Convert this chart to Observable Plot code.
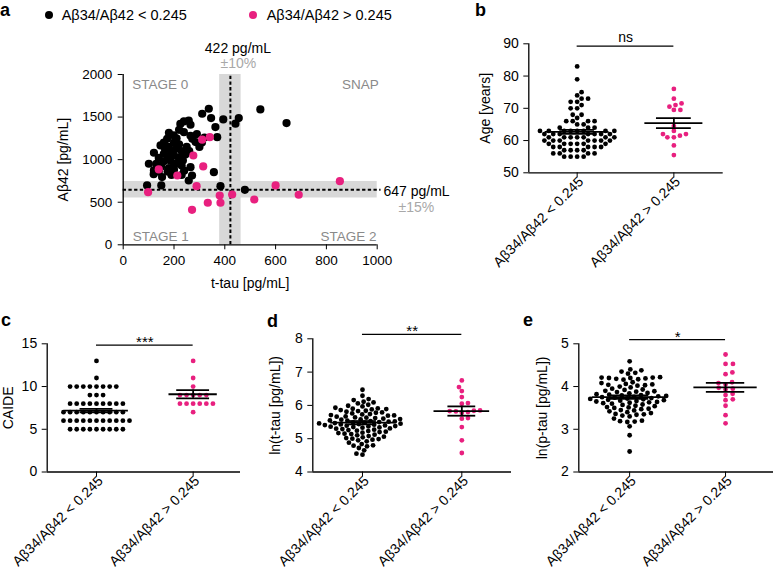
<!DOCTYPE html>
<html><head><meta charset="utf-8">
<script src="https://cdn.jsdelivr.net/npm/d3@7"></script>
<script src="https://cdn.jsdelivr.net/npm/@observablehq/plot@0.6"></script>
<style>
body{margin:0;background:#fff;}
#root{position:relative;width:773px;height:576px;overflow:hidden;font-family:"Liberation Sans",Arial,Helvetica,sans-serif;color:#000;}
.abs{position:absolute;}
.letter{position:absolute;font-weight:bold;font-size:18px;line-height:13px;}
.leg{position:absolute;font-size:14.5px;line-height:14.5px;white-space:nowrap;}
.legdot{position:absolute;width:8.4px;height:8.4px;border-radius:50%;}
</style></head>
<body><div id="root"></div>
<script>
// ---------------- data ----------------
const groups = ["Aβ34/Aβ42 < 0.245", "Aβ34/Aβ42 > 0.245"];

// panel a
const aXTicks = [0, 200, 400, 600, 800, 1000];
const aYTicks = [0, 500, 1000, 1500, 2000];
const tauCut = 422, tauTol = 0.10, abCut = 647, abTol = 0.15;
const aBlackTau = [337,311,346,394,455,442,540,643,239,258,265,363,225,180,199,239,173,370,272,285,147,121,160,101,121,153,265,271,258,357,94,150,383,479,200,220,180,165,190,210,230,250,140,175,200,220,245,260,130,160,185,210,235,150,180,200,230,140,175,200,240,120,190,230,300,320,290,210,160,220,265,310];
const aBlackAb42 = [1598,1539,1488,1472,1488,1422,1590,1429,1449,1460,1410,1382,1420,1316,1284,1323,1245,1264,1245,1206,1167,1081,1069,952,873,795,912,814,755,853,697,697,689,646,1200,1180,1150,1120,1100,1130,1100,1150,1020,1040,1050,1020,1060,1100,950,980,990,960,990,920,900,930,930,860,860,880,870,830,820,820,1150,1260,1300,1250,1200,1350,1280,1200];
const aPinkTau = [140,213,276,315,289,98,380,429,516,333,383,271,600,691,853,311,341];
const aPinkAb42 = [885,814,1049,920,689,618,579,591,532,494,494,411,697,588,747,1234,1264];
const stageNames = ["STAGE 0", "SNAP", "STAGE 1", "STAGE 2"];
const cutLabels = ["422 pg/mL", "±10%", "647 pg/mL", "±15%"];

// panel b
const bTicks = [50, 60, 70, 80, 90];
const ageBlack = [83,79,75,74,73,73,72,72,71,70,70,68,68,67,66,66,66,66,65,65,64,64,64,63,63,63,63,63,63,63,63,62,62,62,62,62,62,62,61,61,61,61,61,61,61,60,60,60,60,60,60,60,59,59,59,59,59,59,58,58,58,58,58,57,57,57,57,56,56,56,56,55,55,55,55];
const agePink = [76,73,71.5,71,70.5,69.5,69.5,64.5,63,62,62,61.5,61,61,58.5,55.5];
const ageMean = [62.7, 65.4], ageSem = [0.6, 1.55];

// panel c
const cTicks = [0, 5, 10, 15];
const caideBlack = [13,11,10,10,10,10,10,10,10,10,9,9,9,8,8,8,8,8,8,8,8,8,7,7,7,7,7,7,7,7,7,7,6,6,6,6,6,6,6,6,6,6,6,5,5,5,5,5,5,5,5,5];
const caidePink = [13,11,10,9,9,9,9,9,8,8,8,8,8,8,7];
const caideMean = [7.19, 9.1], caideSem = [0.2, 0.48];

// panel d
const dTicks = [4, 5, 6, 7, 8];
const tTauBlack = [6.47,6.29,6.19,6.16,6.11,6.09,6.06,6.02,5.99,5.97,5.93,5.91,5.9,5.89,5.88,5.86,5.84,5.83,5.81,5.79,5.78,5.76,5.74,5.73,5.71,5.7,5.69,5.67,5.66,5.64,5.63,5.62,5.6,5.59,5.58,5.57,5.55,5.54,5.53,5.52,5.51,5.5,5.49,5.48,5.47,5.46,5.45,5.44,5.43,5.42,5.41,5.4,5.39,5.38,5.37,5.36,5.35,5.34,5.33,5.31,5.3,5.29,5.27,5.26,5.24,5.23,5.21,5.2,5.18,5.17,5.15,5.14,5.12,5.1,5.08,5.06,5.04,5.02,5.0,4.99,4.97,4.95,4.92,4.88,4.84,4.8,4.79,4.77,4.72,4.65,4.55,4.52];
const tTauPink = [6.75,6.55,6.43,6.25,6.07,6.05,5.85,5.83,5.8,5.82,5.84,5.78,5.62,5.6,5.35,4.95,4.57];
const tTauMean = [5.48, 5.83], tTauSem = [0.05, 0.14];

// panel e
const eTicks = [2, 3, 4, 5];
const pTauBlack = [4.59,4.4,4.38,4.35,4.32,4.3,4.22,4.21,4.21,4.2,4.2,4.19,4.18,4.17,4.16,4.1,4.08,4.06,4.05,4.04,4.03,4.02,4.0,3.98,3.95,3.93,3.92,3.9,3.89,3.88,3.87,3.85,3.84,3.82,3.81,3.8,3.79,3.78,3.77,3.76,3.75,3.74,3.73,3.72,3.71,3.7,3.69,3.68,3.67,3.66,3.65,3.64,3.63,3.62,3.61,3.6,3.58,3.57,3.55,3.54,3.52,3.51,3.5,3.48,3.47,3.45,3.44,3.42,3.4,3.38,3.36,3.35,3.34,3.32,3.3,3.25,3.2,3.19,3.18,3.17,3.07,2.86,2.48];
const pTauPink = [4.75,4.53,4.53,4.33,4.29,4.1,4.08,4.05,3.95,3.93,3.97,3.83,3.8,3.7,3.68,3.55,3.33,3.14];
const pTauMean = [3.75, 3.98], pTauSem = [0.04, 0.105];

// ---------------- style ----------------
const PINK = "#e8207f";
const BAND = "#d8d8d8";
const FONT = '"Liberation Sans", Arial, Helvetica, sans-serif';
const plain = d => String(d);
const root = document.getElementById("root");

function mount(node, left, top) {
  const d = document.createElement("div");
  d.className = "abs";
  d.style.left = left + "px"; d.style.top = top + "px";
  d.appendChild(node); root.appendChild(d);
}
function margins(c) {
  return {width: c.width, height: c.height,
    marginLeft: c.fx0 - c.left, marginRight: c.left + c.width - c.fx1,
    marginTop: c.fy0 - c.top, marginBottom: c.top + c.height - c.fy1};
}
function swarm(values, g, pxY, pxX, Dx, Dy) {
  const idx = values.map((v, i) => i).sort((i, j) => values[i] - values[j]);
  const placed = [], out = [];
  idx.forEach((i, k) => {
    const y = values[i] * pxY;
    const near = placed.filter(p => Math.abs(p.y - y) < Dy);
    const cands = [0];
    for (const p of near) {
      const w = Dx * Math.sqrt(1 - ((p.y - y) / Dy) ** 2);
      cands.push(p.x + w, p.x - w);
    }
    const r3 = v => Math.round(Math.abs(v) * 100);
    cands.sort((a, b) => (r3(a) - r3(b)) || (k % 2 ? a - b : b - a));
    let xs = 0;
    for (const c of cands) {
      if (near.every(p => ((p.x - c) / Dx) ** 2 + ((p.y - y) / Dy) ** 2 >= 1 - 1e-6)) { xs = c; break; }
    }
    placed.push({x: xs, y});
    out.push({g, v: values[i], x: g + xs / pxX});
  });
  return out;
}

// ---------------- panel a ----------------
const A = {left: 0, top: 0, width: 470, height: 300, fx0: 122.7, fx1: 376.7, fy0: 74, fy1: 244.3};
const aBlack = aBlackTau.map((t, i) => ({t, a: aBlackAb42[i]}));
const aPink = aPinkTau.map((t, i) => ({t, a: aPinkAb42[i]}));
const dash = {strokeDasharray: "3.3,2.4", strokeWidth: 2, stroke: "#000"};
const aPlot = Plot.plot({
  ...margins(A),
  style: {fontFamily: FONT, fontSize: "13.5px", background: "transparent", overflow: "visible", color: "#000"},
  x: {domain: [0, 1000], ticks: aXTicks, tickFormat: plain, tickSize: 5, tickPadding: 6, label: null},
  y: {domain: [0, 2000], ticks: aYTicks, tickFormat: plain, tickSize: 5, tickPadding: 6, label: null},
  marks: [
    Plot.rect([0], {x1: tauCut * (1 - tauTol), x2: tauCut * (1 + tauTol), y1: 0, y2: 2000, fill: BAND}),
    Plot.rect([0], {x1: 0, x2: 1000, y1: abCut * (1 - abTol), y2: abCut * (1 + abTol), fill: BAND}),
    Plot.ruleX([tauCut], {y1: 0, y2: 2000, ...dash}),
    Plot.ruleY([abCut], {x1: 0, x2: 1015, ...dash}),
    Plot.ruleX([0], {y1: 0, y2: 2000, strokeWidth: 1.3}),
    Plot.ruleY([0], {x1: 0, x2: 1000, strokeWidth: 1.3}),
    Plot.dot(aBlack, {x: "t", y: "a", r: 4.1, fill: "#000"}),
    Plot.dot(aPink, {x: "t", y: "a", r: 4.1, fill: PINK}),
    Plot.text([stageNames[0]], {frameAnchor: "top-left", dx: 9, dy: 14, lineAnchor: "bottom", textAnchor: "start", fill: "#8a8a8a", fontSize: 13.5}),
    Plot.text([stageNames[1]], {frameAnchor: "top-right", dx: 1.6, dy: 14, lineAnchor: "bottom", textAnchor: "end", fill: "#8a8a8a", fontSize: 13.5}),
    Plot.text([stageNames[2]], {frameAnchor: "bottom-left", dx: 9.6, dy: -4.3, lineAnchor: "bottom", textAnchor: "start", fill: "#8a8a8a", fontSize: 13.5}),
    Plot.text([stageNames[3]], {frameAnchor: "bottom-right", dx: -0.7, dy: -4.3, lineAnchor: "bottom", textAnchor: "end", fill: "#8a8a8a", fontSize: 13.5}),
    Plot.text([cutLabels[0]], {x: tauCut, frameAnchor: "top", dx: 7.5, dy: -22, lineAnchor: "bottom", textAnchor: "middle", fontSize: 14}),
    Plot.text([cutLabels[1]], {x: tauCut, frameAnchor: "top", dx: 8, dy: -7, lineAnchor: "bottom", textAnchor: "middle", fontSize: 14, fill: "#a8a8a8"}),
    Plot.text([cutLabels[2]], {y: abCut, frameAnchor: "right", dx: 6.3, dy: 6, lineAnchor: "bottom", textAnchor: "start", fontSize: 14}),
    Plot.text([cutLabels[3]], {y: abCut, frameAnchor: "right", dx: 21.3, dy: 22.5, lineAnchor: "bottom", textAnchor: "start", fontSize: 14, fill: "#a8a8a8"}),
    Plot.text(["t-tau [pg/mL]"], {frameAnchor: "bottom", dy: 42.7, lineAnchor: "bottom", textAnchor: "middle", fontSize: 14}),
    Plot.text(["Aβ42 [pg/mL]"], {frameAnchor: "left", rotate: -90, textAnchor: "middle", lineAnchor: "middle", dx: -60, fontSize: 14})
  ]
});
mount(aPlot, A.left, A.top);

// ---------------- dot-plot panels ----------------
function dotPanel(c) {
  const pxY = (c.fy1 - c.fy0) / (c.yDomain[1] - c.yDomain[0]);
  const pxX = (c.fx1 - c.fx0) / (c.xDomain[1] - c.xDomain[0]);
  const p0 = swarm(c.vals[0], 0, pxY, pxX, c.Dx, c.Dy);
  const p1 = swarm(c.vals[1], 1, pxY, pxX, c.Dx, c.Dy);
  const summ = [0, 1].map(g => ({g, m: c.means[g], s: c.sems[g], w: c.meanHalf[g], k: c.capHalf[g]}));
  const lw = {strokeWidth: 1.8, stroke: "#000"};
  return Plot.plot({
    ...margins(c),
    style: {fontFamily: FONT, fontSize: "14px", background: "transparent", overflow: "visible", color: "#000"},
    x: {domain: c.xDomain, ticks: [0, 1], tickFormat: () => "", tickSize: 5, label: null},
    y: {domain: c.yDomain, ticks: c.yTicks, tickFormat: plain, tickSize: 5, tickPadding: 5, label: null},
    marks: [
      Plot.ruleX([c.xDomain[0]], {strokeWidth: 1.3}),
      Plot.ruleY([c.yDomain[0]], {strokeWidth: 1.3}),
      Plot.dot(p0, {x: "x", y: "v", r: 2.4, fill: "#000"}),
      Plot.dot(p1, {x: "x", y: "v", r: 2.4, fill: PINK}),
      Plot.ruleY(summ, {y: "m", x1: d => d.g - d.w, x2: d => d.g + d.w, ...lw}),
      Plot.ruleX(summ, {x: "g", y1: d => d.m - d.s, y2: d => d.m + d.s, ...lw}),
      Plot.ruleY(summ, {y: d => d.m + d.s, x1: d => d.g - d.k, x2: d => d.g + d.k, ...lw}),
      Plot.ruleY(summ, {y: d => d.m - d.s, x1: d => d.g - d.k, x2: d => d.g + d.k, ...lw}),
      Plot.ruleY([c.sigY], {x1: 0, x2: 1, strokeWidth: 1.2}),
      Plot.text([c.sig], {x: 0.5, y: c.sigY, dy: c.sigDy, lineAnchor: "bottom", textAnchor: "middle", fontSize: c.sigSize}),
      Plot.text([0, 1], {x: d => d, text: d => groups[d], frameAnchor: "bottom", textAnchor: "end", lineAnchor: "middle", rotate: -45, dx: 4, dy: 6.5, fontSize: 14}),
      Plot.text([c.title], {frameAnchor: "left", rotate: -90, textAnchor: "middle", lineAnchor: "middle", dx: -c.titleOff, fontSize: 14})
    ]
  });
}

const B = {left: 440, top: 0, width: 333, height: 300, fx0: 528.3, fx1: 722.7, fy0: 43.3, fy1: 172.3,
  xDomain: [-0.5, 1.51], yDomain: [50, 90], yTicks: bTicks, vals: [ageBlack, agePink], means: ageMean, sems: ageSem,
  meanHalf: [0.33, 0.30], capHalf: [0.18, 0.18], Dx: 6.5, Dy: 4.4, title: "Age [years]", titleOff: 43,
  sigY: 89.26, sig: "ns", sigDy: -4, sigSize: 14};
const C = {left: 0, top: 290, width: 262, height: 286, fx0: 46.7, fx1: 240, fy0: 343.3, fy1: 471.5,
  xDomain: [-0.51, 1.49], yDomain: [0, 15], yTicks: cTicks, vals: [caideBlack, caidePink], means: caideMean, sems: caideSem,
  meanHalf: [0.33, 0.25], capHalf: [0.17, 0.17], Dx: 6.6, Dy: 5, title: "CAIDE", titleOff: 39,
  sigY: 14.84, sig: "***", sigDy: 2, sigSize: 15};
const D = {left: 262, top: 290, width: 258, height: 286, fx0: 312.3, fx1: 511, fy0: 338.3, fy1: 471.5,
  xDomain: [-0.5, 1.5], yDomain: [4, 8], yTicks: dTicks, vals: [tTauBlack, tTauPink], means: tTauMean, sems: tTauSem,
  meanHalf: [0.32, 0.28], capHalf: [0.14, 0.14], Dx: 6.2, Dy: 4.5, title: "ln(t-tau [pg/mL])", titleOff: 37,
  sigY: 8.13, sig: "**", sigDy: 2, sigSize: 15};
const E = {left: 520, top: 290, width: 253, height: 286, fx0: 578.3, fx1: 773, fy0: 343.3, fy1: 471.5,
  xDomain: [-0.53, 1.5], yDomain: [2, 5], yTicks: eTicks, vals: [pTauBlack, pTauPink], means: pTauMean, sems: pTauSem,
  meanHalf: [0.39, 0.33], capHalf: [0.2, 0.2], Dx: 7.4, Dy: 4.5, title: "ln(p-tau [pg/mL])", titleOff: 36,
  sigY: 5.10, sig: "*", sigDy: 2, sigSize: 15};

for (const c of [B, C, D, E]) mount(dotPanel(c), c.left, c.top);

// ---------------- legend & panel letters ----------------
function addDiv(cls, text, left, top, color) {
  const d = document.createElement("div");
  d.className = cls; d.textContent = text;
  d.style.left = left + "px"; d.style.top = top + "px";
  if (color) d.style.background = color;
  root.appendChild(d);
}
addDiv("legdot", "", 45.1, 10.8, "#000");
addDiv("leg", groups[0], 61.7, 7.5);
addDiv("legdot", "", 249.1, 10.8, PINK);
addDiv("leg", groups[1], 266.7, 7.5);
addDiv("letter", "a", 0, 3.5);
addDiv("letter", "b", 475, 4.3);
addDiv("letter", "c", 1, 314.3);
addDiv("letter", "d", 267, 315.3);
addDiv("letter", "e", 523, 314.3);
</script></body></html>
